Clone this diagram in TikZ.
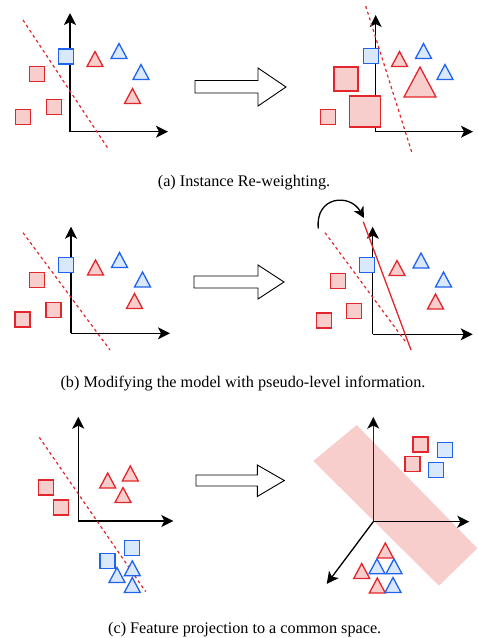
\documentclass[tikz,border=0pt]{standalone}
\usepackage{fontspec}
\setmainfont{Liberation Serif}
\usetikzlibrary{arrows.meta, positioning, calc}

\definecolor{redline}{HTML}{E3262B}
\definecolor{redfill}{HTML}{F8CECC}
\definecolor{blueline}{HTML}{1F63F0}
\definecolor{bluefill}{HTML}{DAE8FC}

\tikzset{
  axis/.style={line width=1.3pt, -{Stealth[length=12pt, width=12pt, inset=3pt]}},
  redsq/.style={draw=redline, fill=redfill, line width=1.3pt, rectangle, minimum size=15pt, inner sep=0pt},
  bluesq/.style={draw=blueline, fill=bluefill, line width=1.3pt, rectangle, minimum size=15pt, inner sep=0pt},
  rtri/.pic={\draw[redline, fill=redfill, line width=1.3pt] (-8,7.5) -- (0,-7.5) -- (8,7.5) -- cycle;},
  btri/.pic={\draw[blueline, fill=bluefill, line width=1.3pt] (-8,7.5) -- (0,-7.5) -- (8,7.5) -- cycle;},
  border/.style={draw=redline, line width=1.2pt, dash pattern=on 3pt off 3pt},
  bigarrow/.style={draw=black, fill=white, line width=0.9pt, line join=miter},
  caption/.style={font=\fontsize{16.2}{19}\selectfont}
}

\begin{document}
\begin{tikzpicture}[x=1pt, y=-1pt]
\useasboundingbox (0,0) rectangle (478,638);

% (a) Instance re-weighting
\begin{scope}
\draw[axis] (70,131.7) -- (70,13);
\draw[axis] (70,131.7) -- (168,131.7);
\draw[border] (23,20) -- (109,150);

\node[bluesq] (a1) at (66,56.5) {};
\node[redsq] (a2) at (37,74) {};
\node[redsq] (a3) at (54,107) {};
\node[redsq] (a4) at (23,117) {};
\pic at (95,59) {rtri};
\pic at (119,51) {btri};
\pic at (141,72) {btri};
\pic at (132.5,96) {rtri};

% arrow
\draw[bigarrow] (195,80.5) -- (258,80.5) -- (258,68) -- (286,87) -- (258,106) -- (258,93) -- (195,93) -- cycle;

\draw[axis] (375.7,131.7) -- (375.7,15);
\draw[axis] (375.7,131.7) -- (473,131.7);

\node[redsq, minimum size=24pt] (a5) at (346,79) {};
\node[redsq, minimum size=31pt] (a6) at (365,111.5) {};
\node[redsq] (a7) at (328,117) {};
\node[bluesq] (a8) at (371,56) {};
\pic at (399.5,59) {rtri};
\pic at (423.5,51) {btri};
\pic at (445,72) {btri};
\pic[scale=2] at (420,82) {rtri};
\draw[border] (365.7,6) -- (412,153);

\node[caption] (capa) at (244,183) {(a) Instance Re-weighting.};
\end{scope}

% (b) Modifying the model
\begin{scope}
\draw[axis] (71,333.3) -- (71,226.7);
\draw[axis] (71,333.3) -- (170,333.3);
\draw[border] (23,232.7) -- (110,350);

\node[bluesq] (b1) at (66,264.7) {};
\node[redsq] (b2) at (37,280) {};
\node[redsq] (b3) at (53.5,310) {};
\node[redsq] (b4) at (22.5,319.5) {};
\pic at (95.5,267.5) {rtri};
\pic at (119.5,260) {btri};
\pic at (142.5,279.5) {btri};
\pic at (134.5,301) {rtri};

% arrow
\draw[bigarrow] (194,276) -- (258,276) -- (258,265) -- (284,282) -- (258,299) -- (258,288) -- (194,288) -- cycle;

\draw[axis] (372.7,334.3) -- (372.7,226.7);
\draw[axis] (372.7,334.3) -- (472.7,334.3);
\draw[border] (325,232.7) -- (406.7,343.3);
\draw[redline, line width=1.3pt] (363.3,221.7) -- (411,350);

\node[bluesq] (b5) at (367,265) {};
\node[redsq] (b6) at (338.3,281) {};
\node[redsq] (b7) at (354,311) {};
\node[redsq] (b8) at (324,320.5) {};
\pic at (397,268) {rtri};
\pic at (421,260.5) {btri};
\pic at (443.5,279.5) {btri};
\pic at (435.5,301.5) {rtri};

\coordinate (oldb) at (318.3,228.5);
\coordinate (newb) at (364,218);
\draw[line width=1.3pt, -{Stealth[length=11pt, width=11pt, inset=3pt]}] (oldb) .. controls (315,196) and (350,193) .. (newb);

\node[caption] (capb) at (243,383.3) {(b) Modifying the model with pseudo-level information.};
\end{scope}

% (c) Feature projection
\begin{scope}
\draw[axis] (78.3,521) -- (78.3,416.7);
\draw[axis] (78.3,521) -- (173.3,521);
\draw[border] (39.3,437.3) -- (145.7,591.7);

\node[redsq] (c1) at (45.7,487.5) {};
\node[redsq] (c2) at (61.3,507.5) {};
\pic at (107.7,480.5) {rtri};
\pic at (130.3,473.5) {rtri};
\pic at (123,495) {rtri};
\node[bluesq] (c3) at (132,548.3) {};
\node[bluesq] (c4) at (107.5,560.8) {};
\pic at (117,575) {btri};
\pic at (132.3,568.3) {btri};
\pic at (132.3,585) {btri};

% arrow
\draw[bigarrow] (196,475) -- (257.3,475) -- (257.3,465) -- (284.3,480.5) -- (257.3,496.5) -- (257.3,486) -- (196,486) -- cycle;

\fill[redfill] (313.3,461) -- (356.7,425) -- (477.3,548.3) -- (439,585.7) -- cycle;
\coordinate (o) at (373.3,521.7);
\draw[axis, draw opacity=0.85] (o) -- (373.3,416.7);
\draw[axis] (o) -- (469.3,521.7);
\draw[axis] (o) -- (326.7,584);

\node[redsq] (c5) at (420.5,444.5) {};
\node[redsq] (c6) at (412.5,463.8) {};
\node[bluesq] (c7) at (445.3,449.7) {};
\node[bluesq] (c8) at (436.2,470) {};
\pic at (385.3,550.5) {rtri};
\pic at (361.7,571) {rtri};
\pic at (377,566.3) {btri};
\pic at (394,566.3) {btri};
\pic at (377.3,585.5) {rtri};
\pic at (393,585) {btri};

\node[caption] (capc) at (244.7,630) {(c) Feature projection to a common space.};
\end{scope}

\end{tikzpicture}
\end{document}
